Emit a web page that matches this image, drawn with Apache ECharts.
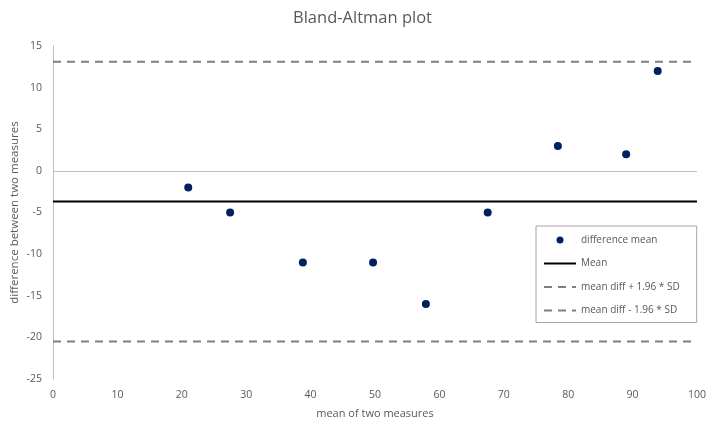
<!DOCTYPE html>
<html><head><meta charset="utf-8">
<script src="https://cdn.jsdelivr.net/npm/echarts@6/dist/echarts.min.js"></script>
<style>html,body{margin:0;padding:0;background:#fff}#c{width:725px;height:429px}</style>
</head><body><div id="c"></div>
<script>
const meanValues = [21, 27.5, 38.8, 49.7, 57.9, 67.5, 78.4, 89.0, 93.9];
const diffValues = [-2, -5, -11, -11, -16, -5, 3, 2, 12];
const meanDiff = -3.67;
const upperLimit = 13.1;
const lowerLimit = -20.5;
const xRange = [0, 100];
const font = '"Open Sans", "Liberation Sans", sans-serif';
const txt = '#595959';
const hidden = { color: 'transparent', borderWidth: 0, opacity: 0 };

const chart = echarts.init(document.getElementById('c'));
chart.setOption({
  animation: false,
  title: { text: 'Bland-Altman plot', left: 'center', top: 5,
    textStyle: { fontFamily: font, fontSize: 16.5, fontWeight: 'normal', color: txt } },
  grid: { left: 53, right: 28, top: 46, bottom: 50, containLabel: false, outerBoundsMode: 'none' },
  xAxis: { type: 'value', min: 0, max: 100, interval: 10,
    name: 'mean of two measures', nameLocation: 'middle', nameGap: 29, nameMoveOverlap: false,
    nameTextStyle: { fontFamily: font, fontSize: 11, color: txt },
    axisLine: { show: false }, axisTick: { show: false }, splitLine: { show: false },
    axisLabel: { fontFamily: font, fontSize: 10.5, color: txt, margin: 11 } },
  yAxis: { type: 'value', min: -25, max: 15, interval: 5,
    name: 'difference between two measures', nameLocation: 'middle', nameGap: 32, nameMoveOverlap: false,
    nameTextStyle: { fontFamily: font, fontSize: 11.5, color: txt },
    axisLine: { show: true, onZero: false, lineStyle: { color: '#bfbfbf', width: 1 } },
    axisTick: { show: false }, splitLine: { show: false },
    axisLabel: { fontFamily: font, fontSize: 10.5, color: txt, margin: 11 } },
  legend: {
    orient: 'vertical', left: 536, top: 226, padding: [9, 17, 7, 7],
    borderColor: '#a6a6a6', borderWidth: 1, itemGap: 13.5, itemWidth: 32, itemHeight: 7,
    textStyle: { fontFamily: font, fontSize: 10, color: txt },
    data: [
      { name: 'difference mean', icon: 'circle', itemStyle: { color: '#002060', opacity: 1 } },
      { name: 'Mean', itemStyle: hidden },
      { name: 'mean diff + 1.96 * SD', itemStyle: hidden },
      { name: 'mean diff - 1.96 * SD', itemStyle: hidden }
    ]
  },
  series: [
    { name: 'Mean', type: 'line', symbol: 'none', data: [[xRange[0], meanDiff], [xRange[1], meanDiff]],
      lineStyle: { color: '#000', width: 2 }, itemStyle: { color: '#000' },
      markLine: { silent: true, symbol: 'none', label: { show: false },
        lineStyle: { color: '#bfbfbf', width: 1, type: 'solid' }, data: [{ yAxis: 0 }] } },
    { name: 'mean diff + 1.96 * SD', type: 'line', symbol: 'none',
      data: [[xRange[0], upperLimit], [xRange[1], upperLimit]],
      lineStyle: { color: '#7f7f7f', width: 2, type: [8, 6] }, itemStyle: { color: '#7f7f7f' } },
    { name: 'mean diff - 1.96 * SD', type: 'line', symbol: 'none',
      data: [[xRange[0], lowerLimit], [xRange[1], lowerLimit]],
      lineStyle: { color: '#7f7f7f', width: 2, type: [8, 6] }, itemStyle: { color: '#7f7f7f' } },
    { name: 'difference mean', type: 'scatter', symbolSize: 8, z: 5,
      data: meanValues.map((m, i) => [m, diffValues[i]]),
      itemStyle: { color: '#002060', opacity: 1 } }
  ]
});
</script></body></html>
